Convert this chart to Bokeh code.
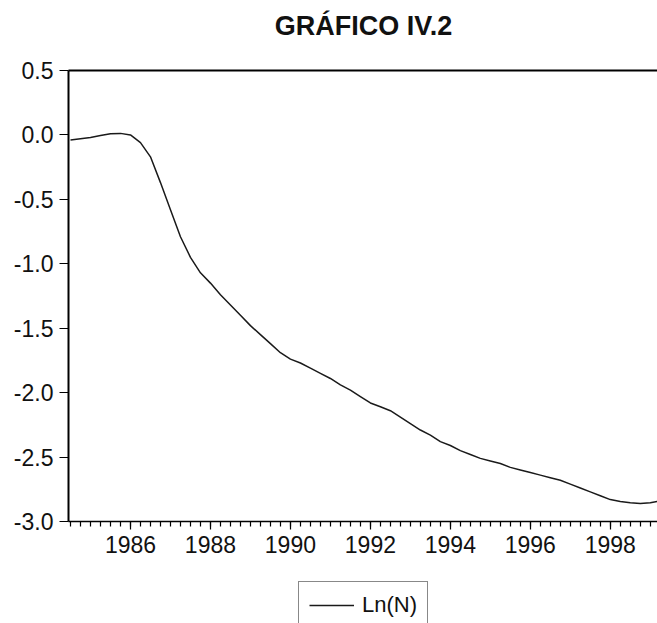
from bokeh.plotting import figure
from bokeh.models import (Range1d, FixedTicker, NumeralTickFormatter, LinearAxis,
                          Legend, LegendItem, Label)
from bokeh.layouts import column
from bokeh.embed import file_html
from bokeh.resources import INLINE

# quarterly observations (year as decimal)
years = [1984.50, 1984.75, 1985.00, 1985.25, 1985.50, 1985.75,
         1986.00, 1986.25, 1986.50, 1986.75,
         1987.00, 1987.25, 1987.50, 1987.75,
         1988.00, 1988.25, 1988.50, 1988.75,
         1989.00, 1989.25, 1989.50, 1989.75,
         1990.00, 1990.25, 1990.50, 1990.75,
         1991.00, 1991.25, 1991.50, 1991.75,
         1992.00, 1992.25, 1992.50, 1992.75,
         1993.00, 1993.25, 1993.50, 1993.75,
         1994.00, 1994.25, 1994.50, 1994.75,
         1995.00, 1995.25, 1995.50, 1995.75,
         1996.00, 1996.25, 1996.50, 1996.75,
         1997.00, 1997.25, 1997.50, 1997.75,
         1998.00, 1998.25, 1998.50, 1998.75,
         1999.00, 1999.25]
ln_n = [-0.04, -0.03, -0.02, -0.005, 0.01, 0.012,
        0.0, -0.06, -0.17, -0.37,
        -0.58, -0.79, -0.95, -1.07,
        -1.15, -1.24, -1.32, -1.40,
        -1.48, -1.55, -1.62, -1.69,
        -1.74, -1.77, -1.81, -1.85,
        -1.89, -1.94, -1.98, -2.03,
        -2.08, -2.11, -2.14, -2.19,
        -2.24, -2.29, -2.33, -2.38,
        -2.41, -2.45, -2.48, -2.51,
        -2.53, -2.55, -2.58, -2.60,
        -2.62, -2.64, -2.66, -2.68,
        -2.71, -2.74, -2.77, -2.80,
        -2.83, -2.845, -2.855, -2.86,
        -2.855, -2.84]

x_major = [1986, 1988, 1990, 1992, 1994, 1996, 1998]
x_minor = [1984 + 0.25 * i for i in range(0, 64)]
y_ticks = [0.5, 0.0, -0.5, -1.0, -1.5, -2.0, -2.5, -3.0]

title_text = "GRÁFICO IV.2"
series_name = "Ln(N)"

FONT = "Liberation Sans"
INK = "#111111"
LINE = "#1a1a1a"


def strip(h):
    f = figure(frame_width=589, frame_height=h, output_backend="svg", toolbar_location=None,
               x_range=Range1d(0, 1), y_range=Range1d(0, 1),
               x_axis_type=None, y_axis_type=None,
               min_border_left=68, min_border_right=0,
               min_border_top=0, min_border_bottom=0)
    f.outline_line_color = None
    f.grid.visible = False
    return f


# ---- title strip ----
pt = strip(50)
pt.add_layout(Label(x=295, y=25, x_units="screen", y_units="screen",
                    text=title_text, text_align="center", text_baseline="alphabetic",
                    text_font=FONT, text_font_size="27px", text_font_style="bold",
                    text_color=INK))

# ---- main chart ----
p = figure(frame_width=589, frame_height=451, output_backend="svg", toolbar_location=None,
           x_range=Range1d(1984.45, 1999.18), y_range=Range1d(-3.0, 0.5),
           min_border_left=68, min_border_right=0, min_border_top=20,
           min_border_bottom=50)
p.outline_line_color = None
p.background_fill_color = "white"
p.border_fill_color = "white"
p.grid.visible = False

r = p.line(years, ln_n, line_color=LINE, line_width=1.5)

xa = p.xaxis[0]
xa.ticker = FixedTicker(ticks=x_major, minor_ticks=x_minor)
xa.major_tick_out = 8
xa.major_tick_in = 0
xa.minor_tick_out = 5
xa.minor_tick_in = 0
xa.axis_line_width = 1.5
xa.major_tick_line_width = 1.2
xa.minor_tick_line_width = 1.2
xa.major_label_text_font = FONT
xa.major_label_text_font_size = "23px"
xa.major_label_text_color = INK
xa.major_label_standoff = 6

ya = p.yaxis[0]
ya.ticker = FixedTicker(ticks=y_ticks, minor_ticks=[])
ya.formatter = NumeralTickFormatter(format="0.0")
ya.major_tick_out = 9
ya.major_tick_in = 0
ya.minor_tick_out = 0
ya.axis_line_width = 2
ya.major_label_text_font = FONT
ya.major_label_text_font_size = "23px"
ya.major_label_text_color = INK
ya.major_label_standoff = 6

top = LinearAxis(ticker=FixedTicker(ticks=[]), major_tick_out=0, major_tick_in=0,
                 minor_tick_out=0, minor_tick_in=0, major_label_text_font_size="0px",
                 major_label_standoff=0, axis_line_width=2)
p.add_layout(top, "above")

# ---- legend strip ----
pl = strip(52)
rl = pl.line(x=[-5, -4], y=[-5, -4], line_color=LINE, line_width=1.5)
legend = Legend(items=[LegendItem(label=series_name, renderers=[rl])],
                location=(230, -6), orientation="horizontal",
                border_line_color=INK, border_line_width=1.2,
                label_text_font=FONT, label_text_font_size="22px",
                label_text_color=INK, glyph_width=45,
                padding=10, margin=0, spacing=0, label_standoff=8)
pl.add_layout(legend, "center")

layout = column(pt, p, pl, spacing=0)
open("out.html", "w").write(file_html(layout, INLINE))
